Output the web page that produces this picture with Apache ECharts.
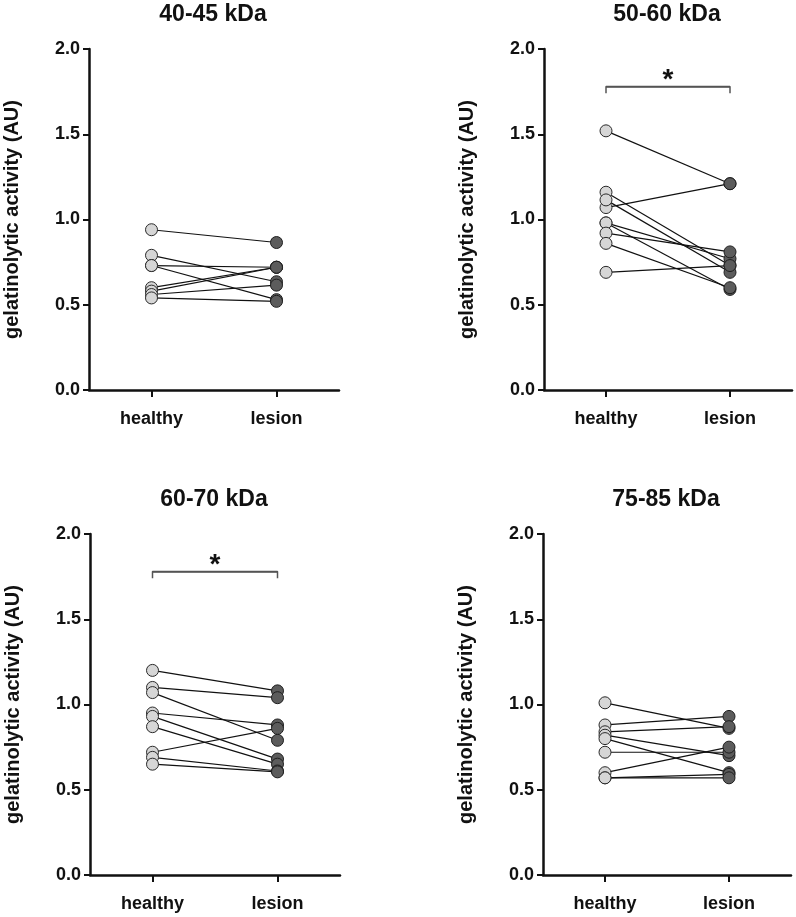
<!DOCTYPE html>
<html>
<head>
<meta charset="utf-8">
<script src="https://cdn.jsdelivr.net/npm/echarts@6/dist/echarts.min.js"></script>
<style>
html,body{margin:0;padding:0;background:#fff;}
#chart{width:796px;height:917px;}
</style>
</head>
<body>
<div id="chart"></div>
<script>
// ---- data ----
const categories = ['healthy', 'lesion'];
const yTickValues = [0, 0.5, 1.0, 1.5, 2.0];
const panelTitles = ['40-45 kDa', '50-60 kDa', '60-70 kDa', '75-85 kDa'];
const yAxisTitle = 'gelatinolytic activity (AU)';

const p1Healthy = [0.94, 0.79, 0.73, 0.73, 0.60, 0.58, 0.56, 0.54];
const p1Lesion  = [0.865, 0.635, 0.72, 0.53, 0.72, 0.72, 0.615, 0.52];

const p2Healthy = [1.52, 1.07, 1.16, 1.115, 0.98, 0.98, 0.92, 0.86, 0.69];
const p2Lesion  = [1.21, 1.21, 0.73, 0.69, 0.77, 0.59, 0.81, 0.60, 0.73];

const p3Healthy = [1.20, 1.10, 1.07, 0.95, 0.93, 0.87, 0.72, 0.69, 0.65];
const p3Lesion  = [1.08, 1.04, 0.79, 0.88, 0.68, 0.65, 0.86, 0.61, 0.605];

const p4Healthy = [1.01, 0.88, 0.84, 0.82, 0.80, 0.72, 0.60, 0.57, 0.57];
const p4Lesion  = [0.86, 0.93, 0.87, 0.70, 0.60, 0.72, 0.75, 0.59, 0.57];

const significant = [false, true, true, false];
const bracketLevel = 1.78;
const bracketTickEnd = 1.74;
const sigSymbol = '*';

// ---- layout ----
const panels = [
  {h: p1Healthy, l: p1Lesion},
  {h: p2Healthy, l: p2Lesion},
  {h: p3Healthy, l: p3Lesion},
  {h: p4Healthy, l: p4Lesion}
];
const grids = [
  {left: 89, top: 49, width: 250, height: 341},
  {left: 544, top: 49, width: 248, height: 341},
  {left: 90, top: 534, width: 250, height: 341},
  {left: 543, top: 534, width: 248, height: 341}
];
const FONT = '"Liberation Sans", Arial, Helvetica, sans-serif';

const chart = echarts.init(document.getElementById('chart'), null, {renderer: 'canvas'});

const option = {
  animation: false,
  backgroundColor: '#fff',
  title: panelTitles.map((t, i) => ({
    text: t,
    left: grids[i].left + grids[i].width / 2 - 6,
    top: grids[i].top - 51,
    textAlign: 'center',
    textStyle: {fontFamily: FONT, fontWeight: 'bold', fontSize: 23, color: '#111'}
  })),
  grid: grids.map(g => Object.assign({containLabel: false}, g)),
  xAxis: grids.map((g, i) => ({
    type: 'category',
    gridIndex: i,
    data: categories,
    boundaryGap: true,
    axisLine: {lineStyle: {color: '#111', width: 2.5}},
    axisTick: {show: true, alignWithLabel: true, length: 7, lineStyle: {color: '#111', width: 2}},
    axisLabel: {fontFamily: FONT, fontWeight: 'bold', fontSize: 18, color: '#111', margin: 20},
    splitLine: {show: false}
  })),
  yAxis: grids.map((g, i) => ({
    type: 'value',
    gridIndex: i,
    min: yTickValues[0],
    max: yTickValues[yTickValues.length - 1],
    interval: yTickValues[1] - yTickValues[0],
    name: yAxisTitle,
    nameLocation: 'middle',
    nameGap: 67,
    nameTextStyle: {fontFamily: FONT, fontWeight: 'bold', fontSize: 20, color: '#111'},
    axisLine: {show: true, lineStyle: {color: '#111', width: 2.5}},
    axisTick: {show: true, length: 6, lineStyle: {color: '#111', width: 2}},
    axisLabel: {fontFamily: FONT, fontWeight: 'bold', fontSize: 18, color: '#111', margin: 9,
      formatter: v => v.toFixed(1)},
    splitLine: {show: false}
  })),
  series: []
};

panels.forEach((p, i) => {
  p.h.forEach((hv, k) => {
    option.series.push({
      type: 'line',
      xAxisIndex: i, yAxisIndex: i,
      data: [[categories[0], hv], [categories[1], p.l[k]]],
      symbol: 'none',
      silent: true,
      lineStyle: {color: '#111', width: 1.2},
      z: 2
    });
  });
  option.series.push({
    type: 'scatter',
    xAxisIndex: i, yAxisIndex: i,
    data: p.h.map(v => [categories[0], v]),
    symbol: 'circle',
    symbolSize: 12,
    itemStyle: {color: '#d6d6d6', borderColor: '#2a2a2a', borderWidth: 1, opacity: 1},
    z: 3
  });
  option.series.push({
    type: 'scatter',
    xAxisIndex: i, yAxisIndex: i,
    data: p.l.map(v => [categories[1], v]),
    symbol: 'circle',
    symbolSize: 12,
    itemStyle: {color: '#5c5c5c', borderColor: '#1e1e1e', borderWidth: 1, opacity: 1},
    z: 3
  });
  if (significant[i]) {
    option.series.push({
      type: 'line',
      xAxisIndex: i, yAxisIndex: i,
      data: [[categories[0], bracketTickEnd], [categories[0], bracketLevel],
             [categories[1], bracketLevel], [categories[1], bracketTickEnd]],
      symbol: 'none',
      silent: true,
      lineStyle: {color: '#555', width: 1.5},
      z: 2,
      markLine: {
        symbol: 'none',
        silent: true,
        lineStyle: {color: '#555', width: 1.5, type: 'solid'},
        label: {show: true, formatter: sigSymbol, position: 'insideMiddleTop', distance: -8,
          fontFamily: FONT, fontWeight: 'bold', fontSize: 28, color: '#111'},
        data: [[{coord: [categories[0], bracketLevel]}, {coord: [categories[1], bracketLevel]}]]
      }
    });
  }
});

chart.setOption(option);
</script>
</body>
</html>
